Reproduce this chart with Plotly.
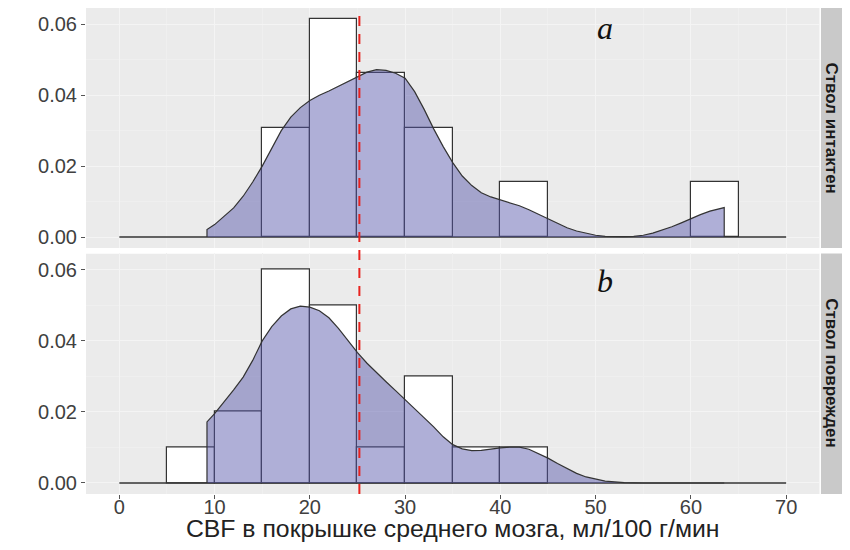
import plotly.graph_objects as go

# ---------------- data ----------------
bin_edges = [0, 5, 10, 15, 20, 25, 30, 35, 40, 45, 50, 55, 60, 65, 70]
hist_top = [0, 0, 0, 0.0308, 0.0615, 0.0462, 0.0308, 0, 0.0154, 0, 0, 0, 0.0154, 0]
hist_bottom = [0, 0.01, 0.02, 0.06, 0.05, 0.01, 0.03, 0.01, 0.01, 0, 0, 0, 0, 0]

dens_x_top = [9.2, 10, 11, 12, 13, 14, 15, 16, 17, 18, 19, 20, 21, 22, 23, 24, 25, 26, 27, 28, 29,
              30, 31, 32, 33, 34, 35, 36, 37, 38, 39, 40, 41, 42, 43, 44, 45, 46, 47, 48, 49, 50,
              51, 52, 53, 54, 55, 56, 57, 58, 59, 60, 61, 62, 63, 63.5]
dens_y_top = [0.0021, 0.0035, 0.0058, 0.0082, 0.0115, 0.0155, 0.0200, 0.0252, 0.0300, 0.0338,
              0.0365, 0.0385, 0.0400, 0.0412, 0.0425, 0.0438, 0.0452, 0.0465, 0.0472, 0.0470,
              0.0462, 0.0448, 0.0410, 0.0360, 0.0305, 0.0255, 0.0210, 0.0172, 0.0145, 0.0125,
              0.0113, 0.0105, 0.0097, 0.0088, 0.0077, 0.0064, 0.0050, 0.0037, 0.0026, 0.0017,
              0.0010, 0.0005, 0.0002, 0.0001, 0.0001, 0.0002, 0.0005, 0.0011, 0.0019, 0.0029,
              0.0040, 0.0052, 0.0063, 0.0073, 0.0080, 0.0083]

dens_x_bottom = [9.2, 10, 11, 12, 13, 14, 15, 16, 17, 18, 19, 20, 21, 22, 23, 24, 25, 26, 27, 28,
                 29, 30, 31, 32, 33, 34, 35, 36, 37, 38, 39, 40, 41, 42, 43, 44, 45, 46, 47, 48,
                 49, 50, 51, 52, 53, 55, 63.5]
dens_y_bottom = [0.0172, 0.0195, 0.0228, 0.0262, 0.0298, 0.0345, 0.0400, 0.0440, 0.0470, 0.0490,
                 0.0498, 0.0495, 0.0485, 0.0465, 0.0435, 0.0400, 0.0367, 0.0337, 0.0310, 0.0285,
                 0.0260, 0.0235, 0.0210, 0.0185, 0.0158, 0.0130, 0.0108, 0.0096, 0.0091, 0.0092,
                 0.0096, 0.0099, 0.0101, 0.0101, 0.0095, 0.0083, 0.0070, 0.0055, 0.0040, 0.0027,
                 0.0017, 0.0010, 0.0005, 0.0003, 0.0001, 0.0000, 0.0000]

ref_line_x = 25.2
strip_labels = ["Ствол интактен", "Ствол поврежден"]
panel_letters = ["a", "b"]
letter_pos = [(51.0, 0.0590), (51.0, 0.0568)]
x_title = "CBF в покрышке среднего мозга, мл/100 г/мин"
x_ticks = [0, 10, 20, 30, 40, 50, 60, 70]
y_ticks = [0.00, 0.02, 0.04, 0.06]
y_ticklabels = ["0.00", "0.02", "0.04", "0.06"]

# ---------------- figure ----------------
FONT = "Liberation Sans, Arial, sans-serif"
OUT = "#333333"
FILL = "rgba(85,85,170,0.47)"

fig = go.Figure()

centers = [(a + b) / 2 for a, b in zip(bin_edges[:-1], bin_edges[1:])]
width = bin_edges[1] - bin_edges[0]

panels = [("x2", "y2", hist_top, dens_x_top, dens_y_top),
          ("x", "y", hist_bottom, dens_x_bottom, dens_y_bottom)]

for xa, ya, hist, dx, dy in panels:
    cx = [c for c, h in zip(centers, hist) if h > 0]
    hy = [h for h in hist if h > 0]
    fig.add_trace(go.Bar(x=cx, y=hy, width=width, xaxis=xa, yaxis=ya,
                         marker=dict(color="white", line=dict(color=OUT, width=1.2)),
                         showlegend=False, hoverinfo="skip"))
    fig.add_trace(go.Scatter(x=[bin_edges[0], bin_edges[-1]], y=[0, 0], xaxis=xa, yaxis=ya,
                             mode="lines", line=dict(color=OUT, width=1.4),
                             showlegend=False, hoverinfo="skip"))
    px = [dx[0]] + dx + [dx[-1]]
    py = [0] + dy + [0]
    fig.add_trace(go.Scatter(x=px, y=py, xaxis=xa, yaxis=ya, mode="lines",
                             fill="toself", fillcolor=FILL,
                             line=dict(color=OUT, width=1.2),
                             showlegend=False, hoverinfo="skip"))

xr = [-3.5, 73.5]
yr = [-0.0031, 0.0646]
xdom = [0, 0.9702]
dom_bottom = [0, 0.4949]
dom_top = [0.5062, 1.0]

common_x = dict(range=xr, showgrid=True, gridcolor="#F4F4F4", gridwidth=1.1,
                minor=dict(showgrid=True, gridcolor="#EFEFEF", gridwidth=0.6, dtick=5),
                zeroline=False, tickvals=x_ticks, domain=xdom, showline=False)
common_y = dict(range=yr, showgrid=True, gridcolor="#F4F4F4", gridwidth=1.1,
                minor=dict(showgrid=True, gridcolor="#EFEFEF", gridwidth=0.6,
                           tickvals=[0.01, 0.03, 0.05]),
                zeroline=False, tickvals=y_ticks, ticktext=y_ticklabels,
                ticks="outside", ticklen=4, tickcolor="#555555", tickwidth=1,
                tickfont=dict(family=FONT, size=20, color="#404040"), showline=False)

# the page body adds an 8px margin, so the figure is sized to fit the 850x550 window
fig.update_layout(
    width=834, height=534,
    margin=dict(l=78, r=0, t=0, b=48),
    paper_bgcolor="white", plot_bgcolor="#EBEBEB",
    barmode="overlay", bargap=0,
    xaxis=dict(**common_x, anchor="y", ticks="outside", ticklen=4, tickcolor="#555555",
               ticklabelstandoff=-9,
               tickfont=dict(family=FONT, size=20, color="#404040"),
               title=dict(text=x_title, font=dict(family=FONT, size=24.8, color="#222222"),
                          standoff=2)),
    xaxis2=dict(**common_x, anchor="y2", matches="x", showticklabels=False, ticks=""),
    yaxis=dict(**common_y, domain=dom_bottom, anchor="x"),
    yaxis2=dict(**common_y, domain=dom_top, anchor="x2"),
)

shapes = []
shapes.append(dict(type="rect", xref="paper", yref="paper", x0=xdom[0], x1=xdom[1],
                   y0=dom_bottom[1], y1=dom_top[0], fillcolor="white", line=dict(width=0),
                   layer="below"))
for dom in (dom_top, dom_bottom):
    shapes.append(dict(type="rect", xref="paper", yref="paper", x0=0.9722, x1=1.0,
                       y0=dom[0], y1=dom[1], fillcolor="#C9C9C9", line=dict(width=0)))
shapes.append(dict(type="line", xref="x", yref="paper", x0=ref_line_x, x1=ref_line_x,
                   y0=0, y1=1, line=dict(color="#E8231F", width=2, dash="10px,8px")))
fig.update_layout(shapes=shapes)

ann = []
for lab, dom in zip(strip_labels, (dom_top, dom_bottom)):
    ann.append(dict(text="<b>" + lab + "</b>", xref="paper", yref="paper",
                    x=0.9861, y=(dom[0] + dom[1]) / 2, showarrow=False, textangle=90,
                    font=dict(family=FONT, size=17, color="#1A1A1A"),
                    xanchor="center", yanchor="middle"))
for lab, (lx, ly), (xa, ya) in zip(panel_letters, letter_pos, (("x2", "y2"), ("x", "y"))):
    ann.append(dict(text="<i>" + lab + "</i>", xref=xa, yref=ya, x=lx, y=ly,
                    showarrow=False, font=dict(family="Liberation Serif, serif", size=32,
                                               color="#111111"),
                    xanchor="center", yanchor="middle"))
fig.update_layout(annotations=ann)

fig.write_html("out.html")
